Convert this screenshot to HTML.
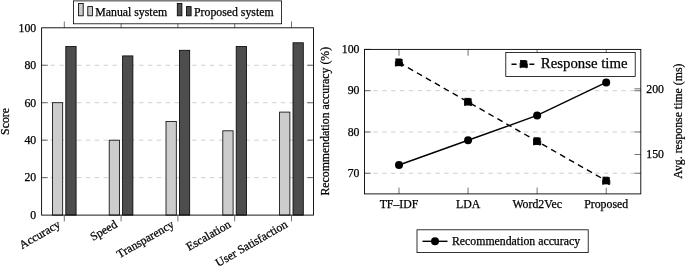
<!DOCTYPE html><html><head><meta charset="utf-8"><style>html,body{margin:0;padding:0;background:#fff}svg{display:block;will-change:transform}text{font-family:"Liberation Serif",serif;fill:#000;stroke:#000;stroke-width:0.25px}</style></head><body>
<svg width="685" height="267" viewBox="0 0 685 267">
<rect width="685" height="267" fill="#fff"/>
<line x1="41.6" x2="313.5" y1="177.64" y2="177.64" stroke="#b5b5b5" stroke-width="0.65" stroke-dasharray="4.43 4.43"/>
<line x1="41.6" x2="313.5" y1="140.18" y2="140.18" stroke="#b5b5b5" stroke-width="0.65" stroke-dasharray="4.43 4.43"/>
<line x1="41.6" x2="313.5" y1="102.72" y2="102.72" stroke="#b5b5b5" stroke-width="0.65" stroke-dasharray="4.43 4.43"/>
<line x1="41.6" x2="313.5" y1="65.26" y2="65.26" stroke="#b5b5b5" stroke-width="0.65" stroke-dasharray="4.43 4.43"/>
<line x1="64.30" x2="64.30" y1="215.1" y2="221.4" stroke="#333" stroke-width="0.7"/>
<line x1="64.30" x2="64.30" y1="27.8" y2="21.5" stroke="#333" stroke-width="0.7"/>
<line x1="121.10" x2="121.10" y1="215.1" y2="221.4" stroke="#333" stroke-width="0.7"/>
<line x1="121.10" x2="121.10" y1="27.8" y2="21.5" stroke="#333" stroke-width="0.7"/>
<line x1="177.90" x2="177.90" y1="215.1" y2="221.4" stroke="#333" stroke-width="0.7"/>
<line x1="177.90" x2="177.90" y1="27.8" y2="21.5" stroke="#333" stroke-width="0.7"/>
<line x1="234.70" x2="234.70" y1="215.1" y2="221.4" stroke="#333" stroke-width="0.7"/>
<line x1="234.70" x2="234.70" y1="27.8" y2="21.5" stroke="#333" stroke-width="0.7"/>
<line x1="291.50" x2="291.50" y1="215.1" y2="221.4" stroke="#333" stroke-width="0.7"/>
<line x1="291.50" x2="291.50" y1="27.8" y2="21.5" stroke="#333" stroke-width="0.7"/>
<line x1="41.6" x2="47.9" y1="177.64" y2="177.64" stroke="#333" stroke-width="0.7"/>
<line x1="313.5" x2="307.2" y1="177.64" y2="177.64" stroke="#333" stroke-width="0.7"/>
<line x1="41.6" x2="47.9" y1="140.18" y2="140.18" stroke="#333" stroke-width="0.7"/>
<line x1="313.5" x2="307.2" y1="140.18" y2="140.18" stroke="#333" stroke-width="0.7"/>
<line x1="41.6" x2="47.9" y1="102.72" y2="102.72" stroke="#333" stroke-width="0.7"/>
<line x1="313.5" x2="307.2" y1="102.72" y2="102.72" stroke="#333" stroke-width="0.7"/>
<line x1="41.6" x2="47.9" y1="65.26" y2="65.26" stroke="#333" stroke-width="0.7"/>
<line x1="313.5" x2="307.2" y1="65.26" y2="65.26" stroke="#333" stroke-width="0.7"/>
<rect x="52.40" y="102.72" width="10.3" height="112.38" fill="#cccccc" stroke="#000" stroke-width="0.8"/>
<rect x="65.80" y="46.53" width="10.3" height="168.57" fill="#4d4d4d" stroke="#000" stroke-width="0.8"/>
<rect x="109.20" y="140.18" width="10.3" height="74.92" fill="#cccccc" stroke="#000" stroke-width="0.8"/>
<rect x="122.60" y="55.90" width="10.3" height="159.20" fill="#4d4d4d" stroke="#000" stroke-width="0.8"/>
<rect x="166.00" y="121.45" width="10.3" height="93.65" fill="#cccccc" stroke="#000" stroke-width="0.8"/>
<rect x="179.40" y="50.28" width="10.3" height="164.82" fill="#4d4d4d" stroke="#000" stroke-width="0.8"/>
<rect x="222.80" y="130.81" width="10.3" height="84.28" fill="#cccccc" stroke="#000" stroke-width="0.8"/>
<rect x="236.20" y="46.53" width="10.3" height="168.57" fill="#4d4d4d" stroke="#000" stroke-width="0.8"/>
<rect x="279.60" y="112.09" width="10.3" height="103.01" fill="#cccccc" stroke="#000" stroke-width="0.8"/>
<rect x="293.00" y="42.78" width="10.3" height="172.32" fill="#4d4d4d" stroke="#000" stroke-width="0.8"/>
<rect x="41.6" y="27.8" width="271.90" height="187.30" fill="none" stroke="#000" stroke-width="0.9"/>
<text x="36.2" y="218.90" font-size="11.8" text-anchor="end">0</text>
<text x="36.2" y="181.44" font-size="11.8" text-anchor="end">20</text>
<text x="36.2" y="143.98" font-size="11.8" text-anchor="end">40</text>
<text x="36.2" y="106.52" font-size="11.8" text-anchor="end">60</text>
<text x="36.2" y="69.06" font-size="11.8" text-anchor="end">80</text>
<text x="36.2" y="31.60" font-size="11.8" text-anchor="end">100</text>
<text transform="translate(59.40,223.40) rotate(-30)" font-size="11.8" text-anchor="end" dy="3.6">Accuracy</text>
<text transform="translate(116.20,223.40) rotate(-30)" font-size="11.8" text-anchor="end" dy="3.6">Speed</text>
<text transform="translate(173.00,223.40) rotate(-30)" font-size="11.8" text-anchor="end" dy="3.6">Transparency</text>
<text transform="translate(229.80,223.40) rotate(-30)" font-size="11.8" text-anchor="end" dy="3.6">Escalation</text>
<text transform="translate(286.60,223.40) rotate(-30)" font-size="11.8" text-anchor="end" dy="3.6">User Satisfaction</text>
<text transform="translate(8.6,121.45) rotate(-90)" font-size="11.8" text-anchor="middle">Score</text>
<rect x="73.4" y="0.9" width="208.2" height="22.9" fill="#fff" stroke="#000" stroke-width="0.8"/>
<rect x="78.6" y="3.5" width="4.6" height="12.3" fill="#cccccc" stroke="#000" stroke-width="0.85"/>
<rect x="87.8" y="6.6" width="4.6" height="9.2" fill="#cccccc" stroke="#000" stroke-width="0.85"/>
<rect x="177.3" y="3.5" width="4.6" height="12.3" fill="#4d4d4d" stroke="#000" stroke-width="0.85"/>
<rect x="186.5" y="6.6" width="4.6" height="9.2" fill="#4d4d4d" stroke="#000" stroke-width="0.85"/>
<text x="95.3" y="15.8" font-size="11.8">Manual system</text>
<text x="194" y="15.8" font-size="11.8">Proposed system</text>
<line x1="364.5" x2="640.8" y1="173.26" y2="173.26" stroke="#b5b5b5" stroke-width="0.65" stroke-dasharray="4.43 4.43"/>
<line x1="364.5" x2="640.8" y1="131.97" y2="131.97" stroke="#b5b5b5" stroke-width="0.65" stroke-dasharray="4.43 4.43"/>
<line x1="364.5" x2="640.8" y1="90.69" y2="90.69" stroke="#b5b5b5" stroke-width="0.65" stroke-dasharray="4.43 4.43"/>
<line x1="399.00" x2="399.00" y1="193.9" y2="187.6" stroke="#333" stroke-width="0.7"/>
<line x1="399.00" x2="399.00" y1="49.4" y2="55.699999999999996" stroke="#333" stroke-width="0.7"/>
<line x1="468.07" x2="468.07" y1="193.9" y2="187.6" stroke="#333" stroke-width="0.7"/>
<line x1="468.07" x2="468.07" y1="49.4" y2="55.699999999999996" stroke="#333" stroke-width="0.7"/>
<line x1="537.14" x2="537.14" y1="193.9" y2="187.6" stroke="#333" stroke-width="0.7"/>
<line x1="537.14" x2="537.14" y1="49.4" y2="55.699999999999996" stroke="#333" stroke-width="0.7"/>
<line x1="606.21" x2="606.21" y1="193.9" y2="187.6" stroke="#333" stroke-width="0.7"/>
<line x1="606.21" x2="606.21" y1="49.4" y2="55.699999999999996" stroke="#333" stroke-width="0.7"/>
<line x1="364.5" x2="370.8" y1="173.26" y2="173.26" stroke="#333" stroke-width="0.7"/>
<line x1="364.5" x2="370.8" y1="131.97" y2="131.97" stroke="#333" stroke-width="0.7"/>
<line x1="364.5" x2="370.8" y1="90.69" y2="90.69" stroke="#333" stroke-width="0.7"/>
<line x1="364.5" x2="370.8" y1="49.40" y2="49.40" stroke="#333" stroke-width="0.7"/>
<line x1="640.8" x2="634.5" y1="173.26" y2="173.26" stroke="#333" stroke-width="0.7"/>
<line x1="640.8" x2="634.5" y1="131.97" y2="131.97" stroke="#333" stroke-width="0.7"/>
<line x1="640.8" x2="634.5" y1="90.69" y2="90.69" stroke="#333" stroke-width="0.7"/>
<line x1="640.8" x2="634.5" y1="154.49" y2="154.49" stroke="#333" stroke-width="0.7"/>
<line x1="640.8" x2="634.5" y1="88.81" y2="88.81" stroke="#333" stroke-width="0.7"/>
<rect x="364.5" y="49.4" width="276.30" height="144.50" fill="none" stroke="#000" stroke-width="0.9"/>
<polyline points="399.00,165.00 468.07,140.23 537.14,115.46 606.21,82.43" fill="none" stroke="#000" stroke-width="1.4"/>
<circle cx="399.00" cy="165.00" r="4" fill="#000"/>
<circle cx="468.07" cy="140.23" r="4" fill="#000"/>
<circle cx="537.14" cy="115.46" r="4" fill="#000"/>
<circle cx="606.21" cy="82.43" r="4" fill="#000"/>
<polyline points="399.00,62.54 468.07,101.95 537.14,141.35 606.21,180.76" fill="none" stroke="#000" stroke-width="1.4" stroke-dasharray="5.9 4.4"/>
<rect x="395.40" y="58.94" width="7.2" height="7.2" fill="#000" stroke="#000" stroke-width="0.9" stroke-dasharray="5.9 4.4"/>
<rect x="464.47" y="98.35" width="7.2" height="7.2" fill="#000" stroke="#000" stroke-width="0.9" stroke-dasharray="5.9 4.4"/>
<rect x="533.54" y="137.75" width="7.2" height="7.2" fill="#000" stroke="#000" stroke-width="0.9" stroke-dasharray="5.9 4.4"/>
<rect x="602.61" y="177.16" width="7.2" height="7.2" fill="#000" stroke="#000" stroke-width="0.9" stroke-dasharray="5.9 4.4"/>
<text x="359.5" y="177.06" font-size="11.8" text-anchor="end">70</text>
<text x="359.5" y="135.77" font-size="11.8" text-anchor="end">80</text>
<text x="359.5" y="94.49" font-size="11.8" text-anchor="end">90</text>
<text x="359.5" y="53.20" font-size="11.8" text-anchor="end">100</text>
<text x="646.3" y="158.29" font-size="11.8">150</text>
<text x="646.3" y="92.61" font-size="11.8">200</text>
<text x="399.00" y="207.5" font-size="11.8" text-anchor="middle">TF–IDF</text>
<text x="468.07" y="207.5" font-size="11.8" text-anchor="middle">LDA</text>
<text x="537.14" y="207.5" font-size="11.8" text-anchor="middle">Word2Vec</text>
<text x="606.21" y="207.5" font-size="11.8" text-anchor="middle">Proposed</text>
<text transform="translate(329.3,121.25) rotate(-90)" font-size="11.8" text-anchor="middle">Recommendation accuracy (%)</text>
<text transform="translate(681.9,121.15) rotate(-90)" font-size="11.8" text-anchor="middle">Avg. response time (ms)</text>
<rect x="505.8" y="52.5" width="129.4" height="23.9" fill="#fff" stroke="#000" stroke-width="0.8"/>
<path d="M511.5 64.2H516.6M529.4 64.2H534.3" stroke="#000" stroke-width="1.4" fill="none"/>
<rect x="520.1" y="60.5" width="7.2" height="7.2" fill="#000" stroke="#000" stroke-width="0.9" stroke-dasharray="5.9 4.4"/>
<text x="540.8" y="68.3" font-size="14.8">Response time</text>
<rect x="417" y="229.8" width="171.2" height="22.8" fill="#fff" stroke="#000" stroke-width="0.8"/>
<line x1="422.5" x2="447.5" y1="241.3" y2="241.3" stroke="#000" stroke-width="1.4"/>
<circle cx="435" cy="241.3" r="4" fill="#000"/>
<text x="452" y="245" font-size="11.8">Recommendation accuracy</text>
</svg></body></html>
